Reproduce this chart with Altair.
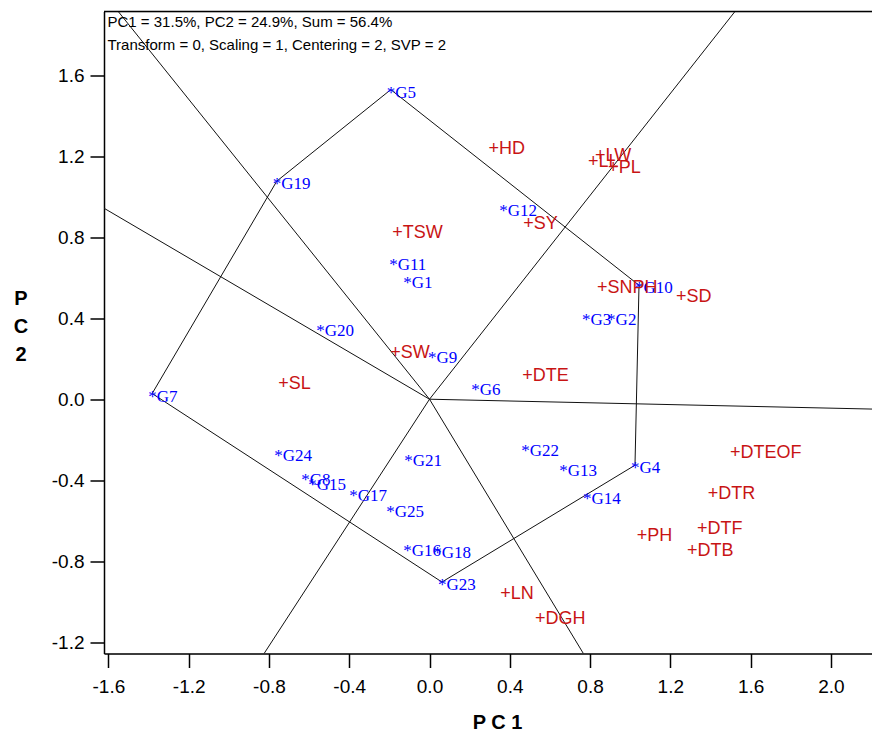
import altair as alt
import pandas as pd

# ---------------- data ----------------
gen_names = ["G1", "G2", "G3", "G4", "G5", "G6", "G7", "G8", "G9", "G10",
             "G11", "G12", "G13", "G14", "G15", "G16", "G17", "G18", "G19", "G20",
             "G21", "G22", "G23", "G24", "G25"]
gen_pc1 = [-0.111, 0.905, 0.780, 1.024, -0.193, 0.228, -1.382, -0.619, 0.012, 1.044,
           -0.181, 0.367, 0.666, 0.785, -0.584, -0.111, -0.380, 0.038, -0.761, -0.544,
           -0.106, 0.477, 0.062, -0.754, -0.196]
gen_pc2 = [0.588, 0.405, 0.405, -0.326, 1.529, 0.061, 0.028, -0.385, 0.217, 0.563,
           0.677, 0.945, -0.341, -0.479, -0.410, -0.736, -0.464, -0.746, 1.077, 0.351,
           -0.292, -0.242, -0.903, -0.267, -0.543]

trait_names = ["DGH", "DTB", "DTE", "DTEOF", "DTF", "DTR", "HD", "LL", "LN", "LW",
               "PH", "PL", "SD", "SL", "SNPH", "SW", "SY", "TSW"]
trait_pc1 = [0.551, 1.308, 0.487, 1.522, 1.358, 1.412, 0.319, 0.815, 0.377, 0.850,
             1.058, 0.915, 1.253, -0.729, 0.860, -0.171, 0.492, -0.161]
trait_pc2 = [-1.082, -0.746, 0.119, -0.262, -0.637, -0.464, 1.239, 1.176, -0.958, 1.206,
             -0.672, 1.146, 0.509, 0.079, 0.553, 0.234, 0.870, 0.825]

hull_order = ["G5", "G10", "G4", "G23", "G7", "G19"]

x_ticks = [-1.6, -1.2, -0.8, -0.4, 0.0, 0.4, 0.8, 1.2, 1.6, 2.0]
y_ticks = [-1.2, -0.8, -0.4, 0.0, 0.4, 0.8, 1.2, 1.6]

header_lines = ["PC1 = 31.5%, PC2 = 24.9%, Sum = 56.4%",
                "Transform = 0, Scaling = 1, Centering = 2, SVP = 2"]

X_MIN, X_MAX = -1.622, 2.205
Y_MIN, Y_MAX = -1.256, 1.915
W, H = 768, 642

# ---------------- derived tables ----------------
gen_df = pd.DataFrame({"name": ["*" + g for g in gen_names], "pc1": gen_pc1, "pc2": gen_pc2})
trait_df = pd.DataFrame({"name": ["+" + t for t in trait_names], "pc1": trait_pc1, "pc2": trait_pc2})

gx = dict(zip(gen_names, gen_pc1))
gy = dict(zip(gen_names, gen_pc2))
verts = [(gx[g], gy[g]) for g in hull_order]
poly_df = pd.DataFrame({
    "pc1": [v[0] for v in verts] + [verts[0][0]],
    "pc2": [v[1] for v in verts] + [verts[0][1]],
    "ord": list(range(len(verts) + 1)),
})

# rays from origin perpendicular to each polygon side, to the plot edge
sx = W / (X_MAX - X_MIN)
sy = H / (Y_MAX - Y_MIN)
rays = []
n = len(verts)
for i in range(n):
    ax_, ay_ = verts[i]
    bx_, by_ = verts[(i + 1) % n]
    dxp, dyp = (bx_ - ax_) * sx, (by_ - ay_) * sy
    px, py = dyp, -dxp
    if px * ax_ * sx + py * ay_ * sy < 0:
        px, py = -px, -py
    px, py = px / sx, py / sy
    ts = []
    if px > 0:
        ts.append(X_MAX / px)
    if px < 0:
        ts.append(X_MIN / px)
    if py > 0:
        ts.append(Y_MAX / py)
    if py < 0:
        ts.append(Y_MIN / py)
    t = min(ts)
    rays.append({"x": 0.0, "y": 0.0, "x2": px * t, "y2": py * t})
ray_df = pd.DataFrame(rays)

header_df = pd.DataFrame({"txt": header_lines, "yy": [10, 33]})

# ---------------- chart ----------------
xscale = alt.Scale(domain=[X_MIN, X_MAX], nice=False, zero=False)
yscale = alt.Scale(domain=[Y_MIN, Y_MAX], nice=False, zero=False)

label_expr = "(datum.value < 0 ? '-' : '') + format(abs(datum.value), '.1f')"

xaxis = alt.Axis(values=x_ticks, labelExpr=label_expr, grid=False, title="P C 1",
                 labelFontSize=19, labelFont="Liberation Sans", labelColor="#000",
                 labelPadding=10, tickSize=14, tickWidth=1.5, tickColor="#000",
                 domainColor="#000", domainWidth=1.5, labelFlush=False,
                 titleFontSize=20, titleFont="Liberation Sans", titleFontWeight="bold",
                 titleColor="#000", titleX=393, titleY=59, titleBaseline="top",
                 titleAlign="center", titleAnchor="start")
yaxis = alt.Axis(values=y_ticks, labelExpr=label_expr, grid=False, title=["P", "C", "2"],
                 labelFontSize=19, labelFont="Liberation Sans", labelColor="#000",
                 labelPadding=6, tickSize=14, tickWidth=1.5, tickColor="#000",
                 domainColor="#000", domainWidth=1.5, labelFlush=False,
                 titleFontSize=20, titleFont="Liberation Sans", titleFontWeight="bold",
                 titleColor="#000", titleAngle=0, titleX=-83.5, titleY=277,
                 titleBaseline="top", titleAlign="center", titleLineHeight=28,
                 titleAnchor="start")

base_poly = alt.Chart(poly_df).mark_line(color="#111", strokeWidth=1, clip=True).encode(
    x=alt.X("pc1:Q", scale=xscale, axis=xaxis),
    y=alt.Y("pc2:Q", scale=yscale, axis=yaxis),
    order="ord:Q",
)

ray_layer = alt.Chart(ray_df).mark_rule(color="#111", strokeWidth=1, clip=True).encode(
    x=alt.X("x:Q", scale=xscale), y=alt.Y("y:Q", scale=yscale),
    x2="x2:Q", y2="y2:Q",
)

gen_layer = alt.Chart(gen_df).mark_text(
    align="left", baseline="alphabetic", dx=-4, dy=8, fontSize=17,
    font="Liberation Serif", color="#0000FF",
).encode(x=alt.X("pc1:Q", scale=xscale), y=alt.Y("pc2:Q", scale=yscale), text="name:N")

trait_layer = alt.Chart(trait_df).mark_text(
    align="left", baseline="alphabetic", dx=-5, dy=6, fontSize=18,
    font="Liberation Sans", color="#C81414",
).encode(x=alt.X("pc1:Q", scale=xscale), y=alt.Y("pc2:Q", scale=yscale), text="name:N")

top_border = alt.Chart(pd.DataFrame({"a": [0]})).mark_rule(color="#000", strokeWidth=1.5).encode(
    x=alt.value(0), x2=alt.value(W), y=alt.value(0)
)

header_layer = alt.Chart(header_df).mark_text(
    align="left", baseline="middle", fontSize=15, font="Liberation Sans", color="#000",
).encode(x=alt.value(3.5), y=alt.Y("yy:Q", scale=None), text="txt:N")

chart = alt.layer(
    ray_layer, base_poly, gen_layer, trait_layer, top_border, header_layer
).properties(
    width=W, height=H,
    autosize=alt.AutoSizeParams(type="none"),
    padding={"left": 96, "top": 3.5, "right": 0, "bottom": 78},
).configure_view(stroke=None).configure(background="white")

chart.save("out.html", embed_options={"renderer": "svg", "actions": False})
